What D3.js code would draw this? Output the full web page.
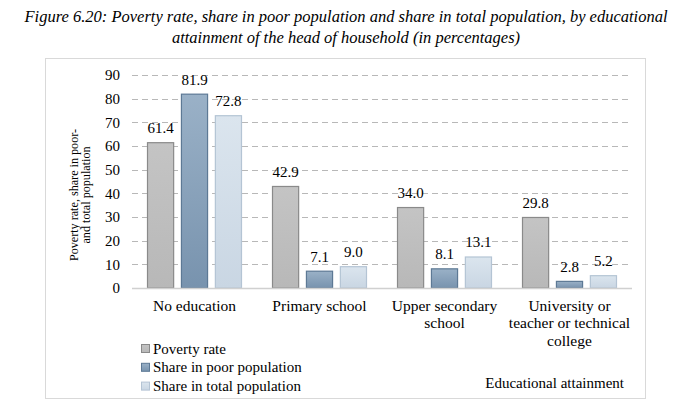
<!DOCTYPE html>
<html>
<head>
<meta charset="utf-8">
<script src="https://cdn.jsdelivr.net/npm/d3@7"></script>
<style>
  body { margin: 0; background: #fff; }
  text { font-family: "Liberation Serif", "Times New Roman", serif; fill: #000; }
</style>
</head>
<body>
<svg id="chart" width="680" height="419"></svg>
<script>
// data
var categories = ["No education", "Primary school", "Upper secondary school", "University or teacher or technical college"];
var catLines = [["No education"], ["Primary school"], ["Upper secondary", "school"], ["University or", "teacher or technical", "college"]];
var seriesNames = ["Poverty rate", "Share in poor population", "Share in total population"];
var povertyRate = [61.4, 42.9, 34.0, 29.8];
var sharePoor = [81.9, 7.1, 8.1, 2.8];
var shareTotal = [72.8, 9.0, 13.1, 5.2];
var yTicks = [0, 10, 20, 30, 40, 50, 60, 70, 80, 90];

var svg = d3.select("#chart");

// colours
var fills = ["url(#gGray)", "url(#gDark)", "url(#gLight)"];
var strokes = ["#8a8a8a", "#5d7995", "#b4c4d4"];
var defs = svg.append("defs");
function grad(id, c1, c2) {
    var g = defs.append("linearGradient").attr("id", id)
        .attr("x1", 0).attr("y1", 0).attr("x2", 0).attr("y2", 1);
    g.append("stop").attr("offset", "0%").attr("stop-color", c1);
    g.append("stop").attr("offset", "100%").attr("stop-color", c2);
}
grad("gGray", "#c4c4c4", "#b8b8b8");
grad("gDark", "#9ab1c7", "#7893ae");
grad("gLight", "#dbe5ee", "#c9d6e3");

// title
var title = svg.append("text").attr("text-anchor", "middle")
    .style("font-style", "italic").style("font-size", "16.5px");
title.append("tspan").attr("x", 346).attr("y", 22)
    .text("Figure 6.20: Poverty rate, share in poor population and share in total population, by educational");
title.append("tspan").attr("x", 346).attr("y", 43)
    .text("attainment of the head of household (in percentages)");

// frame
svg.append("rect").attr("x", 45.5).attr("y", 58.5).attr("width", 600).attr("height", 340)
    .attr("fill", "none").attr("stroke", "#d9d9d9");

var x0 = d3.scaleBand().domain(categories).range([132, 632]).paddingInner(0.24).paddingOuter(0.12);
var x1 = d3.scaleBand().domain(seriesNames).range([0, x0.bandwidth()]).paddingInner(0.2);
var y = d3.scaleLinear().domain([0, 90]).range([288, 75]);

// grid
svg.append("g").selectAll("line").data(yTicks.filter(function(d){ return d > 0; })).enter()
    .append("line")
    .attr("x1", 132).attr("x2", 630)
    .attr("y1", function(d){ return Math.round(y(d)) + 0.5; })
    .attr("y2", function(d){ return Math.round(y(d)) + 0.5; })
    .attr("stroke", "#b8b8b8").attr("stroke-dasharray", "6,4");

// y axis
var yAxis = svg.append("g").attr("transform", "translate(132,0)")
    .call(d3.axisLeft(y).tickValues(yTicks).tickSize(0).tickPadding(12));
yAxis.select(".domain").remove();
yAxis.selectAll("text").style("font-size", "15px").style("font-family", "Liberation Serif");

// bars
var table = categories.map(function(c, i) {
    return { cat: c, vals: [povertyRate[i], sharePoor[i], shareTotal[i]] };
});
var groups = svg.append("g").selectAll("g").data(table).enter().append("g")
    .attr("transform", function(d){ return "translate(" + x0(d.cat) + ",0)"; });
groups.selectAll("rect").data(function(d){ return d.vals; }).enter().append("rect")
    .attr("x", function(d, j){ return x1(seriesNames[j]) + 0.5; })
    .attr("y", function(d){ return y(d); })
    .attr("width", x1.bandwidth() - 1)
    .attr("height", function(d){ return y(0) - y(d); })
    .attr("fill", function(d, j){ return fills[j]; })
    .attr("stroke", function(d, j){ return strokes[j]; })
    .attr("stroke-width", 1.2);
groups.selectAll("text.val").data(function(d){ return d.vals; }).enter().append("text")
    .attr("class", "val").attr("text-anchor", "middle")
    .attr("x", function(d, j){ return x1(seriesNames[j]) + x1.bandwidth() / 2; })
    .attr("y", function(d){ return y(d) - 9.5; })
    .style("font-size", "15px")
    .text(function(d){ return d.toFixed(1); });

// baseline
svg.append("line").attr("x1", 132).attr("x2", 632).attr("y1", y(0) + 0.5).attr("y2", y(0) + 0.5)
    .attr("stroke", "#d0d0d0").attr("stroke-width", 1.5);

// category labels
categories.forEach(function(c, i) {
    var t = svg.append("text").attr("text-anchor", "middle").style("font-size", "15.5px");
    catLines[i].forEach(function(line, k) {
        t.append("tspan").attr("x", x0(c) + x0.bandwidth() / 2).attr("y", 311 + k * 17.3).text(line);
    });
});

// y label (squeezed a bit along its length like the original)
var yl = svg.append("text").attr("text-anchor", "middle")
    .attr("transform", "translate(78,195) rotate(-90) scale(0.92,1)").style("font-size", "13.2px");
yl.append("tspan").attr("x", 0).attr("y", 0).text("Poverty rate, share in poor-");
yl.append("tspan").attr("x", 0).attr("y", 11.8).text("and total population");

// legend
var lg = svg.append("g").selectAll("g").data(seriesNames).enter().append("g")
    .attr("transform", function(d, i){ return "translate(141," + (344 + i * 18.8) + ")"; });
lg.append("rect").attr("x", 0.5).attr("y", 0.5).attr("width", 8).attr("height", 8)
    .attr("fill", function(d, i){ return fills[i]; })
    .attr("stroke", function(d, i){ return strokes[i]; });
lg.append("text").attr("x", 12).attr("y", 9.5).style("font-size", "15px")
    .text(function(d){ return d; });

// x axis title
svg.append("text").attr("x", 624).attr("y", 388).attr("text-anchor", "end")
    .style("font-size", "15px").text("Educational attainment");
</script>
</body>
</html>
